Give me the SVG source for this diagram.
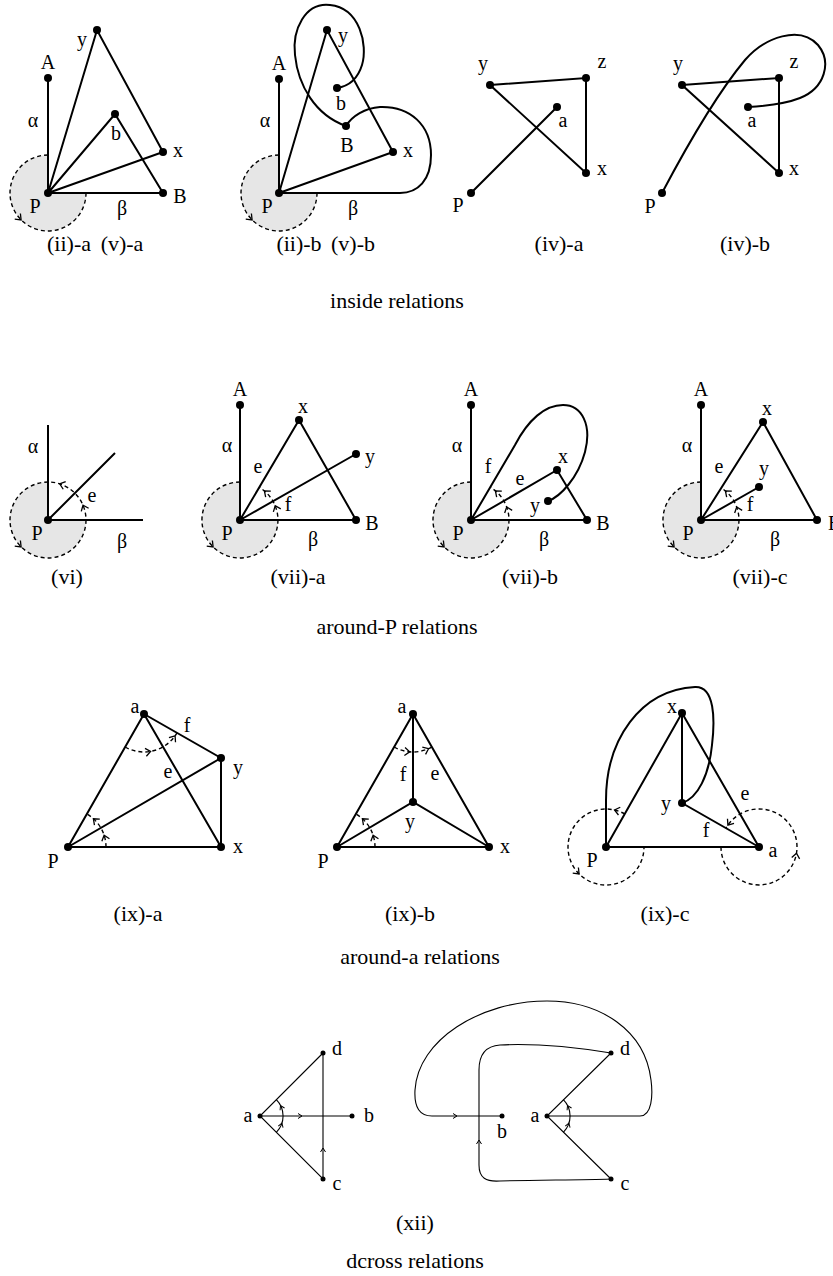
<svg xmlns="http://www.w3.org/2000/svg" xmlns:xlink="http://www.w3.org/1999/xlink" width="833" height="1276" viewBox="0 0 833 1276">
<style>
.ln{stroke:#000;stroke-width:2;fill:none}
.tn{stroke:#000;stroke-width:1.1;fill:none}
.ds{stroke:#000;stroke-width:1.4;stroke-dasharray:4 3;fill:none}
.sh{fill:#e6e6e6;stroke:none}
.dot{fill:#000}
text{font-family:"Liberation Serif","Times New Roman",serif;font-size:20px;fill:#000;text-anchor:middle}
text.cap{font-size:22px}
</style>
<defs>
<path id="ah" d="M-5,-4 L0,0 L-5,4" fill="none" stroke="#000" stroke-width="1.3"/>
<path id="ah2" d="M-4,-2.5 L0,0 L-4,2.5" fill="none" stroke="#000" stroke-width="1"/>
</defs>
<rect width="833" height="1276" fill="#fff"/>

<!-- Row 1 -->
<g id="d-iia">
<path class="sh" d="M48,193 L48,155 A38,38 0 1,0 86,193 Z"/>
<g id="d-iia-edges">
<path class="ln" d="M48,193 L48,78 M48,193 L97,30 L163,152 M48,193 L115,114 L163,193 M48,193 L163,152 M48,193 L163,193"/>
<path class="ds" d="M48,155 A38,38 0 1,0 86,193"/>
<use href="#ah" transform="translate(21.1,219.9) rotate(45)"/>
</g>
<g id="d-iia-P"><circle class="dot" cx="48" cy="193" r="4"/><text x="35" y="213">P</text></g>
<g id="d-iia-A"><circle class="dot" cx="48" cy="78" r="4"/><text x="48" y="69">A</text></g>
<g id="d-iia-y"><circle class="dot" cx="97" cy="30" r="4"/><text x="82" y="46">y</text></g>
<g id="d-iia-b"><circle class="dot" cx="115" cy="114" r="4"/><text x="116" y="140">b</text></g>
<g id="d-iia-x"><circle class="dot" cx="163" cy="152" r="4"/><text x="178" y="157">x</text></g>
<g id="d-iia-B"><circle class="dot" cx="163" cy="193" r="4"/><text x="180" y="203">B</text></g>
<text x="33" y="127">α</text><text x="122" y="215">β</text>
<text class="cap" x="69" y="251">(ii)-a</text><text class="cap" x="122" y="251">(v)-a</text>
</g>

<g id="d-iib">
<path class="sh" d="M279,193 L279,155 A38,38 0 1,0 317,193 Z"/>
<g id="d-iib-edges">
<path class="ln" d="M279,193 L279,79 M279,193 L327,30 L393,152 M279,193 L393,152"/>
<path class="ln" d="M337,88 C350,86 358,78 362,65 C368,45 360,8 330,5 C305,2 292,30 295,55 C298,85 315,115 346,126"/>
<path class="ln" d="M346,126 C352,116 365,108 380,107 C410,106 431,125 431,155 C431,180 418,193 400,193 L279,193"/>
<path class="ds" d="M279,155 A38,38 0 1,0 317,193"/>
<use href="#ah" transform="translate(252.1,219.9) rotate(45)"/>
</g>
<g id="d-iib-P"><circle class="dot" cx="279" cy="193" r="4"/><text x="267" y="213">P</text></g>
<g id="d-iib-A"><circle class="dot" cx="279" cy="79" r="4"/><text x="279" y="70">A</text></g>
<g id="d-iib-y"><circle class="dot" cx="327" cy="30" r="4"/><text x="343" y="42">y</text></g>
<g id="d-iib-b"><circle class="dot" cx="337" cy="88" r="4"/><text x="341" y="110">b</text></g>
<g id="d-iib-B"><circle class="dot" cx="346" cy="126" r="4"/><text x="347" y="152">B</text></g>
<g id="d-iib-x"><circle class="dot" cx="393" cy="152" r="4"/><text x="408" y="157">x</text></g>
<text x="265" y="127">α</text><text x="353" y="215">β</text>
<text class="cap" x="299" y="251">(ii)-b</text><text class="cap" x="353" y="251">(v)-b</text>
</g>

<g id="d-iva">
<g id="d-iva-edges">
<path class="ln" d="M490,85 L586,78 L586,173 Z M471,193 L557,107"/>
</g>
<g id="d-iva-y"><circle class="dot" cx="490" cy="85" r="4"/><text x="483" y="70">y</text></g>
<g id="d-iva-z"><circle class="dot" cx="586" cy="78" r="4"/><text x="602" y="68">z</text></g>
<g id="d-iva-a"><circle class="dot" cx="557" cy="107" r="4"/><text x="563" y="127">a</text></g>
<g id="d-iva-x"><circle class="dot" cx="586" cy="173" r="4"/><text x="602" y="175">x</text></g>
<g id="d-iva-P"><circle class="dot" cx="471" cy="193" r="4"/><text x="458" y="212">P</text></g>
<text class="cap" x="559" y="251">(iv)-a</text>
</g>

<g id="d-ivb">
<g id="d-ivb-edges">
<path class="ln" d="M682,85 L779,78 L779,173 Z"/>
<path class="ln" d="M662,193 C690,140 720,90 745,60 C765,37 800,25 818,45 C832,62 825,88 800,98 C785,104 765,106 748,107"/>
</g>
<g id="d-ivb-y"><circle class="dot" cx="682" cy="85" r="4"/><text x="678" y="70">y</text></g>
<g id="d-ivb-z"><circle class="dot" cx="779" cy="78" r="4"/><text x="794" y="68">z</text></g>
<g id="d-ivb-a"><circle class="dot" cx="748" cy="107" r="4"/><text x="752" y="127">a</text></g>
<g id="d-ivb-x"><circle class="dot" cx="779" cy="173" r="4"/><text x="794" y="175">x</text></g>
<g id="d-ivb-P"><circle class="dot" cx="662" cy="193" r="4"/><text x="650" y="213">P</text></g>
<text class="cap" x="745" y="251">(iv)-b</text>
</g>
<text class="cap" x="397" y="308">inside relations</text>

<!-- Row 2 -->
<g id="d-vi">
<path class="sh" d="M48,520 L48,482 A38,38 0 1,0 86,520 Z"/>
<g id="d-vi-edges">
<path class="ln" d="M48,425 L48,520 L143,520 M48,520 L115,453"/>
<circle class="ds" cx="48" cy="520" r="38"/>
<use href="#ah" transform="translate(83,505.2) rotate(-113)"/>
<use href="#ah" transform="translate(59.7,483.9) rotate(-162)"/>
<use href="#ah" transform="translate(21.1,546.9) rotate(45)"/>
</g>
<g id="d-vi-P"><circle class="dot" cx="48" cy="520" r="4"/><text x="37" y="540">P</text></g>
<text x="33" y="453">α</text><text x="92" y="502">e</text><text x="122" y="548">β</text>
<text class="cap" x="67" y="584">(vi)</text>
</g>

<g id="d-viia">
<path class="sh" d="M240,520 L240,482 A38,38 0 1,0 278,520 Z"/>
<g id="d-viia-edges">
<path class="ln" d="M240,405 L240,520 M240,520 L356,520 L299,420 Z M240,520 L356,454"/>
<path class="ds" d="M240,482 A38,38 0 1,0 259.3,487.3"/>
<use href="#ah" transform="translate(275.2,505.8) rotate(-112)"/>
<use href="#ah" transform="translate(264.4,490.9) rotate(-140)"/>
<use href="#ah" transform="translate(213.1,546.9) rotate(45)"/>
</g>
<g id="d-viia-P"><circle class="dot" cx="240" cy="520" r="4"/><text x="227" y="540">P</text></g>
<g id="d-viia-A"><circle class="dot" cx="240" cy="405" r="4"/><text x="240" y="396">A</text></g>
<g id="d-viia-x"><circle class="dot" cx="299" cy="420" r="4"/><text x="303" y="413">x</text></g>
<g id="d-viia-y"><circle class="dot" cx="356" cy="454" r="4"/><text x="370" y="463">y</text></g>
<g id="d-viia-B"><circle class="dot" cx="356" cy="520" r="4"/><text x="372" y="530">B</text></g>
<text x="227" y="452">α</text><text x="258" y="473">e</text><text x="288" y="511">f</text><text x="313" y="546">β</text>
<text class="cap" x="298" y="584">(vii)-a</text>
</g>

<g id="d-viib">
<path class="sh" d="M471,520 L471,482 A38,38 0 1,0 509,520 Z"/>
<g id="d-viib-edges">
<path class="ln" d="M471,405 L471,520 M471,520 L587,520 L557,470 Z"/>
<path class="ln" d="M471,520 L515,445 C528,420 545,405 563,405 C582,405 592,425 585,452 C578,478 560,497 548,501"/>
<path class="ds" d="M471,482 A38,38 0 1,0 490,487.1"/>
<use href="#ah" transform="translate(506.7,507) rotate(-110)"/>
<use href="#ah" transform="translate(495.4,490.9) rotate(-140)"/>
<use href="#ah" transform="translate(444.1,546.9) rotate(45)"/>
</g>
<g id="d-viib-P"><circle class="dot" cx="471" cy="520" r="4"/><text x="458" y="540">P</text></g>
<g id="d-viib-A"><circle class="dot" cx="471" cy="405" r="4"/><text x="471" y="396">A</text></g>
<g id="d-viib-x"><circle class="dot" cx="557" cy="470" r="4"/><text x="563" y="463">x</text></g>
<g id="d-viib-y"><circle class="dot" cx="548" cy="501" r="4"/><text x="535" y="512">y</text></g>
<g id="d-viib-B"><circle class="dot" cx="587" cy="520" r="4"/><text x="603" y="530">B</text></g>
<text x="457" y="452">α</text><text x="488" y="473">f</text><text x="520" y="485">e</text><text x="544" y="546">β</text>
<text class="cap" x="530" y="584">(vii)-b</text>
</g>

<g id="d-viic">
<path class="sh" d="M701,520 L701,482 A38,38 0 1,0 739,520 Z"/>
<g id="d-viic-edges">
<path class="ln" d="M701,405 L701,520 M701,520 L817,520 L763,422 Z M701,520 L759,487"/>
<path class="ds" d="M701,482 A38,38 0 1,0 721.3,487.9"/>
<use href="#ah" transform="translate(736.7,507) rotate(-110)"/>
<use href="#ah" transform="translate(725.4,490.9) rotate(-140)"/>
<use href="#ah" transform="translate(674.1,546.9) rotate(45)"/>
</g>
<g id="d-viic-P"><circle class="dot" cx="701" cy="520" r="4"/><text x="688" y="540">P</text></g>
<g id="d-viic-A"><circle class="dot" cx="701" cy="405" r="4"/><text x="701" y="396">A</text></g>
<g id="d-viic-x"><circle class="dot" cx="763" cy="422" r="4"/><text x="767" y="415">x</text></g>
<g id="d-viic-y"><circle class="dot" cx="759" cy="487" r="4"/><text x="764" y="475">y</text></g>
<g id="d-viic-B"><circle class="dot" cx="817" cy="520" r="4"/><text x="828" y="530" style="text-anchor:start">B</text></g>
<text x="687" y="452">α</text><text x="719" y="473">e</text><text x="750" y="511">f</text><text x="775" y="546">β</text>
<text class="cap" x="760" y="584">(vii)-c</text>
</g>
<text class="cap" x="397" y="634">around-P relations</text>

<!-- Row 3 -->
<g id="d-ixa">
<g id="d-ixa-edges">
<path class="ln" d="M144,714 L68,847 L221,847 L221,758 Z M144,714 L221,847 M68,847 L221,758"/>
<path class="ds" d="M125.2,747 A38,38 0 0,0 177,732.8"/>
<use href="#ah" transform="translate(150.6,751.4) rotate(-10)"/>
<use href="#ah" transform="translate(175.1,735.8) rotate(-55)"/>
<path class="ds" d="M106,847 A38,38 0 0,0 86.8,814"/>
<use href="#ah" transform="translate(104.1,835.3) rotate(-108)"/>
<use href="#ah" transform="translate(93.4,818.8) rotate(-138)"/>
</g>
<g id="d-ixa-a"><circle class="dot" cx="144" cy="714" r="4"/><text x="135" y="713">a</text></g>
<g id="d-ixa-y"><circle class="dot" cx="221" cy="758" r="4"/><text x="238" y="774">y</text></g>
<g id="d-ixa-x"><circle class="dot" cx="221" cy="847" r="4"/><text x="238" y="853">x</text></g>
<g id="d-ixa-P"><circle class="dot" cx="68" cy="847" r="4"/><text x="53" y="868">P</text></g>
<text x="187" y="732">f</text><text x="168" y="778">e</text>
<text class="cap" x="138" y="921">(ix)-a</text>
</g>

<g id="d-ixb">
<g id="d-ixb-edges">
<path class="ln" d="M413,714 L337,847 L489,847 Z M413,714 L413,802 M337,847 L413,802 L489,847"/>
<path class="ds" d="M394.2,747 A38,38 0 0,0 431.8,747"/>
<use href="#ah" transform="translate(409.7,751.9) rotate(5)"/>
<use href="#ah" transform="translate(428.5,748.7) rotate(-24)"/>
<path class="ds" d="M375,847 A38,38 0 0,0 355.8,814"/>
<use href="#ah" transform="translate(373.1,835.3) rotate(-108)"/>
<use href="#ah" transform="translate(362.4,818.8) rotate(-138)"/>
</g>
<g id="d-ixb-a"><circle class="dot" cx="413" cy="714" r="4"/><text x="402" y="713">a</text></g>
<g id="d-ixb-y"><circle class="dot" cx="413" cy="802" r="4"/><text x="410" y="828">y</text></g>
<g id="d-ixb-x"><circle class="dot" cx="489" cy="847" r="4"/><text x="505" y="853">x</text></g>
<g id="d-ixb-P"><circle class="dot" cx="337" cy="847" r="4"/><text x="323" y="868">P</text></g>
<text x="403" y="781">f</text><text x="435" y="780">e</text>
<text class="cap" x="410" y="921">(ix)-b</text>
</g>

<g id="d-ixc">
<g id="d-ixc-edges">
<path class="ln" d="M606,847 L682,713 L759,847 Z M682,713 L682,803 L759,847"/>
<path class="ln" d="M606,847 L606,800 C606,740 640,690 695,687 C715,686 715,720 712,745 C709,775 698,798 682,803"/>
<path class="ds" d="M624.8,814 A38,38 0 1,0 644,847"/>
<use href="#ah" transform="translate(614.5,810) rotate(-167)"/>
<use href="#ah" transform="translate(579.1,873.9) rotate(45)"/>
<path class="ds" d="M721,847 A38,38 0 1,0 726,828.1"/>
<use href="#ah" transform="translate(796.5,853.3) rotate(-80.5)"/>
<use href="#ah" transform="translate(727.9,825.2) rotate(125)"/>
</g>
<g id="d-ixc-x"><circle class="dot" cx="682" cy="713" r="4"/><text x="672" y="713">x</text></g>
<g id="d-ixc-y"><circle class="dot" cx="682" cy="803" r="4"/><text x="666" y="810">y</text></g>
<g id="d-ixc-P"><circle class="dot" cx="606" cy="847" r="4"/><text x="592" y="867">P</text></g>
<g id="d-ixc-a"><circle class="dot" cx="759" cy="847" r="4"/><text x="773" y="857">a</text></g>
<text x="745" y="800">e</text><text x="706" y="837">f</text>
<text class="cap" x="665" y="921">(ix)-c</text>
</g>
<text class="cap" x="420" y="964">around-a relations</text>

<!-- Row 4 -->
<g id="d-xii-left">
<g id="d-xii-left-edges">
<path class="tn" d="M323,1053 L260,1116 L323,1179 Z M260,1116 L352,1116"/>
<use href="#ah2" transform="translate(302,1116)"/>
<use href="#ah2" transform="translate(323,1148) rotate(-90)"/>
<path class="tn" d="M276.3,1132.3 A23,23 0 0,0 276.3,1099.7"/>
<use href="#ah2" transform="translate(280.5,1105.6) rotate(-117)"/>
<use href="#ah2" transform="translate(281.9,1123.1) rotate(-72)"/>
</g>
<g id="d-xii-left-a"><circle class="dot" cx="260" cy="1116" r="2.5"/><text x="248" y="1122">a</text></g>
<g id="d-xii-left-d"><circle class="dot" cx="323" cy="1053" r="2.5"/><text x="337" y="1055">d</text></g>
<g id="d-xii-left-b"><circle class="dot" cx="352" cy="1116" r="2.5"/><text x="369" y="1122">b</text></g>
<g id="d-xii-left-c"><circle class="dot" cx="323" cy="1179" r="2.5"/><text x="337" y="1190">c</text></g>
</g>

<g id="d-xii-right">
<g id="d-xii-right-edges">
<path class="tn" d="M611,1053 L547,1116 L611,1179"/>
<path class="tn" d="M547,1116 L640,1116 C652,1116 653,1095 651,1080 C645,1030 600,1001 547,1001 C480,1001 418,1040 415,1090 C414,1108 420,1116 432,1116 L502,1116"/>
<path class="tn" d="M611,1053 C580,1048 540,1043 500,1045 C485,1046 479,1055 479,1070 L479,1165 C479,1178 486,1182 500,1181 C540,1180 580,1180 611,1179"/>
<use href="#ah2" transform="translate(457,1116)"/>
<use href="#ah2" transform="translate(479,1140) rotate(-90)"/>
<path class="tn" d="M563.3,1132.3 A23,23 0 0,0 563.3,1099.7"/>
<use href="#ah2" transform="translate(567.5,1105.6) rotate(-117)"/>
<use href="#ah2" transform="translate(568.9,1123.1) rotate(-72)"/>
</g>
<g id="d-xii-right-a"><circle class="dot" cx="547" cy="1116" r="2.5"/><text x="535" y="1122">a</text></g>
<g id="d-xii-right-d"><circle class="dot" cx="611" cy="1053" r="2.5"/><text x="625" y="1055">d</text></g>
<g id="d-xii-right-b"><circle class="dot" cx="502" cy="1116" r="2.5"/><text x="502" y="1138">b</text></g>
<g id="d-xii-right-c"><circle class="dot" cx="611" cy="1179" r="2.5"/><text x="625" y="1190">c</text></g>
</g>
<text class="cap" x="415" y="1230">(xii)</text>
<text class="cap" x="415" y="1268">dcross relations</text>
</svg>
